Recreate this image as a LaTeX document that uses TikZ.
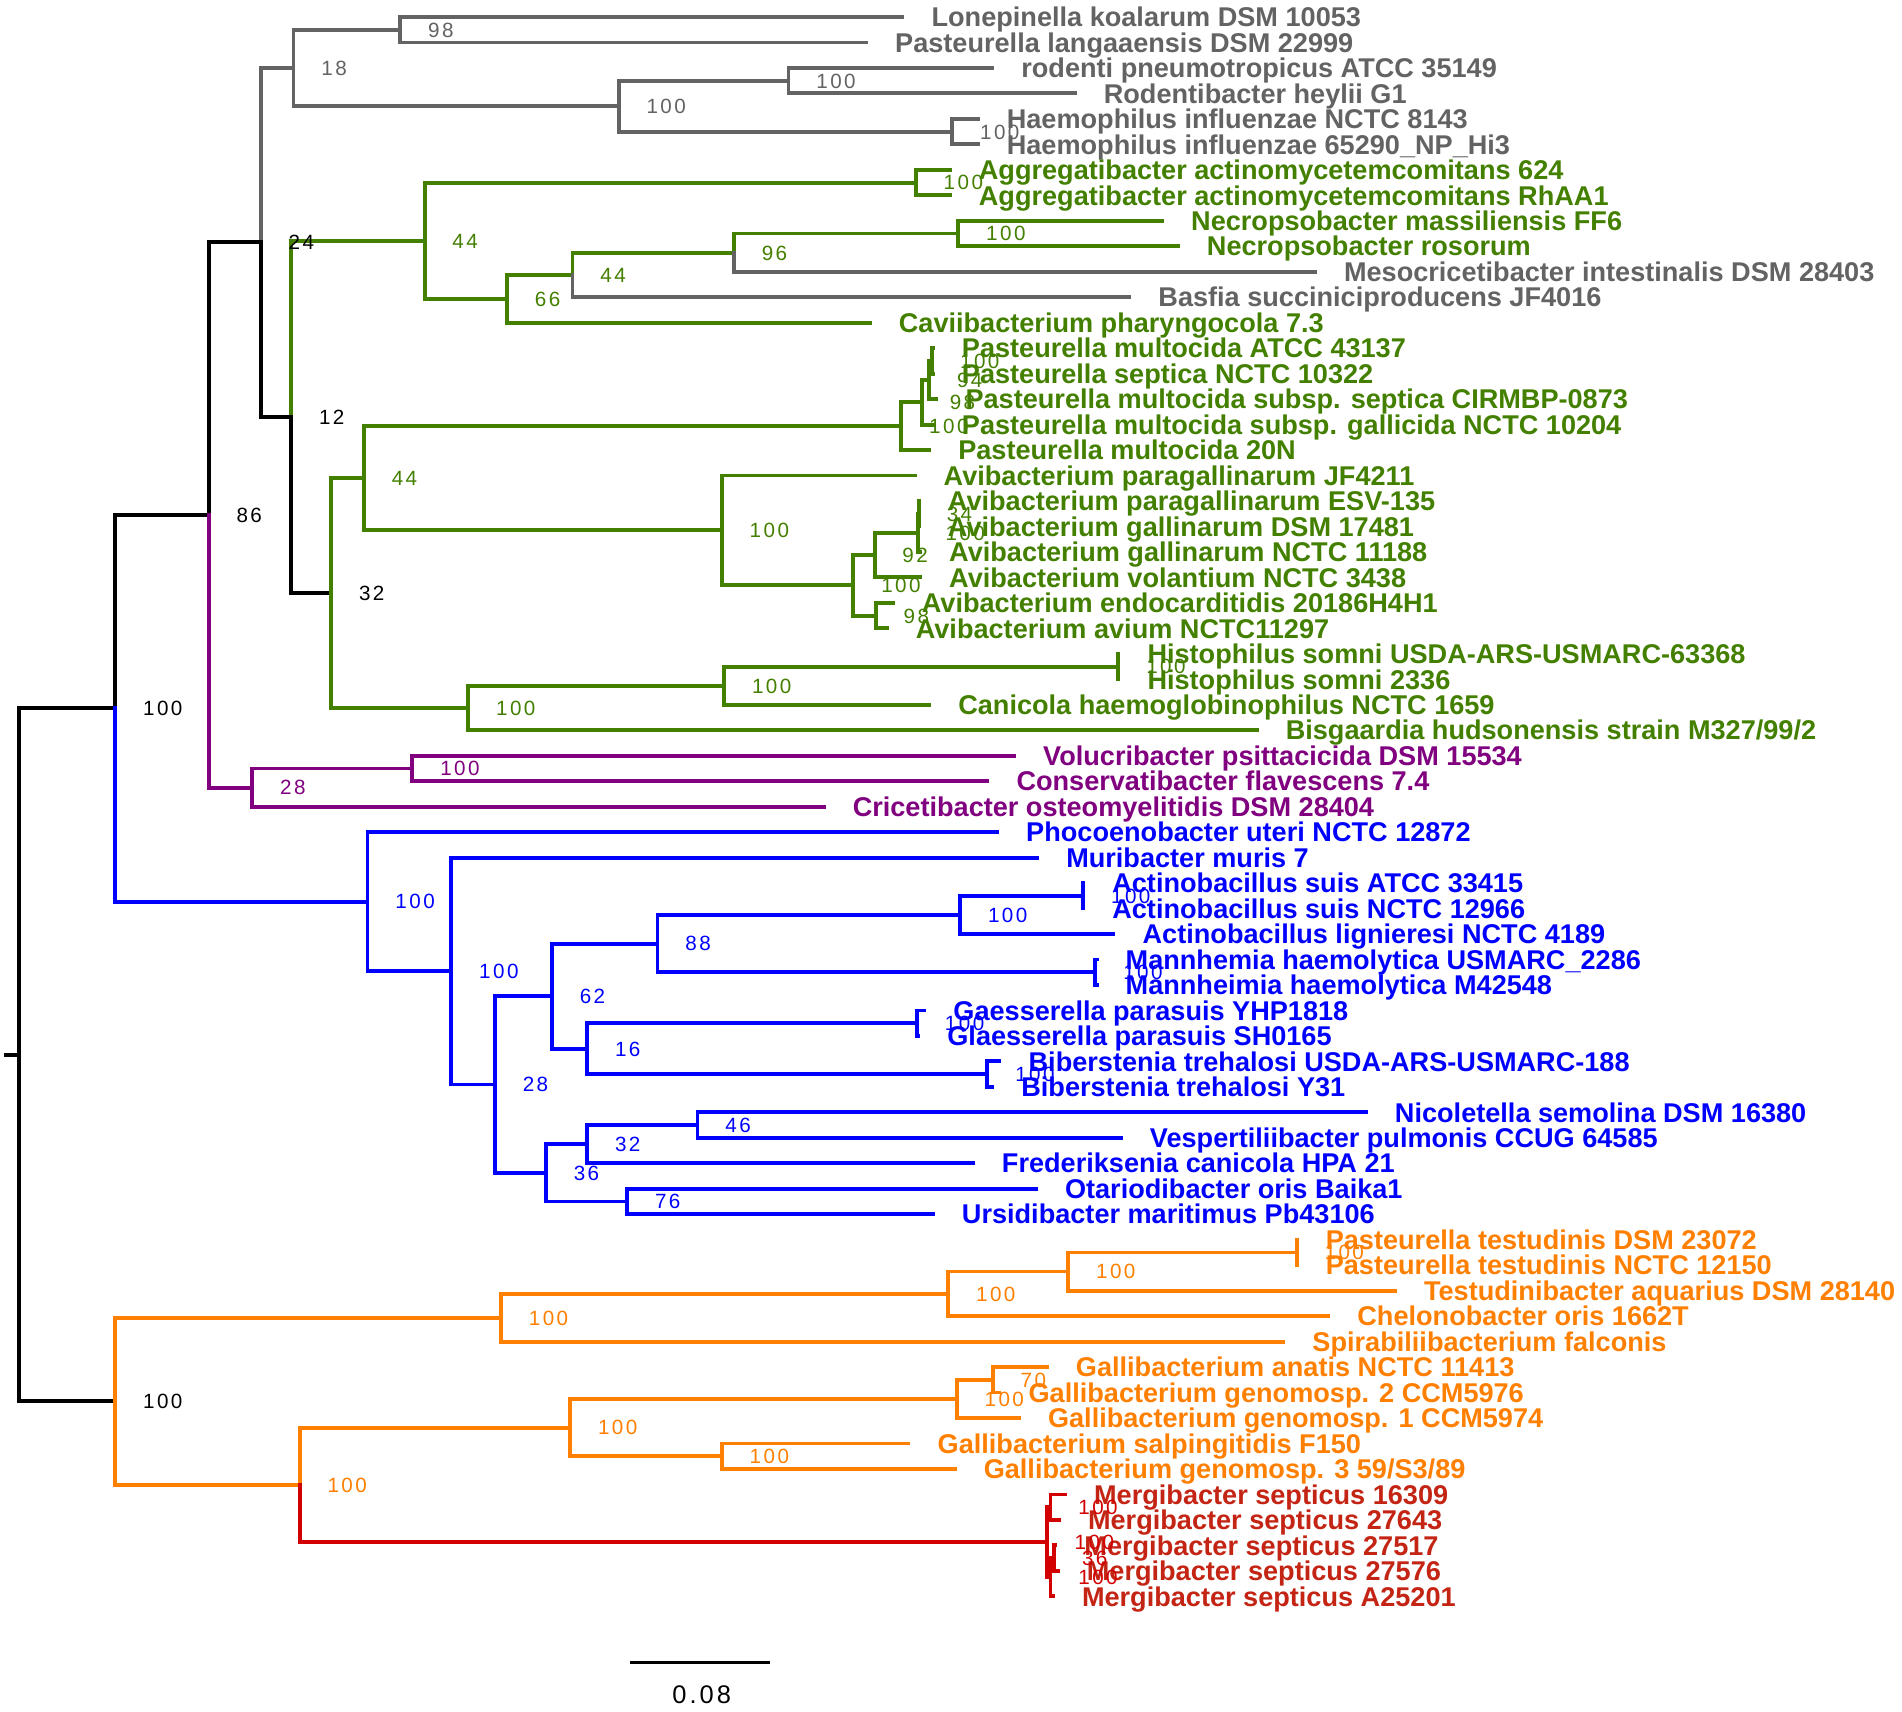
\documentclass[tikz,border=0pt]{standalone}
\usepackage{fontspec}
\setmainfont{Liberation Sans}
\newfontfamily\nlabfont[LetterSpace=12]{Liberation Sans}
\definecolor{cgr}{RGB}{99,99,99}
\definecolor{cgn}{RGB}{68,128,0}
\definecolor{cpu}{RGB}{128,0,128}
\definecolor{cbl}{RGB}{0,0,255}
\definecolor{cor}{RGB}{255,127,0}
\definecolor{crd}{RGB}{210,0,0}
\definecolor{crdt}{RGB}{196,36,20}
\definecolor{cbk}{RGB}{0,0,0}
\newcommand\mkbr[3]{\draw[branch,#3] (#1) |- (#2);}
\newcommand\mkleaf[3]{\coordinate (#1) at (#2,{14+21*(#3-1)});}
\newcommand\mktip[3]{\node[tiplab,text=#2] (t#1) at ([xshift=24pt]#1) {#3};}
\newcommand\mklab[3]{\node[nodelab,text=#2] (b#1) at ([xshift=23pt]#1) {#3};}
\tikzset{
  branch/.style={line width=3.2pt,line cap=rect,line join=miter},
  tiplab/.style={anchor=west,inner sep=0pt,outer sep=0pt,font=\fontsize{22.35}{24}\selectfont\bfseries,text height=16pt,text depth=0pt},
  nodelab/.style={anchor=west,inner sep=0pt,outer sep=0pt,font=\nlabfont\fontsize{17}{18}\selectfont,text height=12.2pt,text depth=0pt}
}
\begin{document}
\begin{tikzpicture}[x=1pt,y=-1pt]
\fill[white] (0,0) rectangle (1568,1411);
\useasboundingbox (0,0) rectangle (1568,1411);
% internal nodes
\coordinate (R0) at (5,869.56);
\coordinate (R) at (16,869.56);
\coordinate (NA) at (95,583.9);
\coordinate (NB) at (95,1155.22);
\coordinate (N86) at (172,424.55);
\coordinate (N24) at (215,199.84);
\coordinate (N18) at (242,56);
\coordinate (N98) at (330,24.5);
\coordinate (N510) at (510,87.5);
\coordinate (N650) at (650,66.5);
\coordinate (N785) at (785,108.5);
\coordinate (N12) at (240,343.68);
\coordinate (N44) at (350,198.41);
\coordinate (N755) at (755,150.5);
\coordinate (N66) at (418,246.31);
\coordinate (N472) at (472,226.63);
\coordinate (N96) at (605,208.25);
\coordinate (N790b) at (790,192.5);
\coordinate (N32) at (273,488.96);
\coordinate (N300) at (300,394.3);
\coordinate (P4) at (743,351.31);
\coordinate (P3) at (760,331.63);
\coordinate (P2) at (766,313.25);
\coordinate (P1) at (768.5,297.5);
\coordinate (N595) at (595,437.28);
\coordinate (Q4) at (703.5,482.56);
\coordinate (Q3) at (721,457.63);
\coordinate (Q2) at (756.5,439.25);
\coordinate (Q1) at (757.5,423.5);
\coordinate (Q5) at (722,507.5);
\coordinate (N386) at (386,583.63);
\coordinate (N597) at (597,565.25);
\coordinate (H) at (922,549.5);
\coordinate (N28) at (208,649.25);
\coordinate (N100p) at (340,633.5);
\coordinate (N303) at (303,743.26);
\coordinate (N372) at (372,800.52);
\coordinate (N408) at (408,894.03);
\coordinate (N455) at (455,821.19);
\coordinate (N542) at (542,777.88);
\coordinate (N792) at (791.5,754.25);
\coordinate (N890) at (893,738.5);
\coordinate (N903) at (903,801.5);
\coordinate (N484) at (484,864.5);
\coordinate (N757) at (756,843.5);
\coordinate (N816) at (814,885.5);
\coordinate (N450) at (450,966.88);
\coordinate (N484b) at (484,943.25);
\coordinate (N575) at (575,927.5);
\coordinate (N517) at (517,990.5);
\coordinate (N413) at (413,1086.31);
\coordinate (N780) at (781.7,1066.63);
\coordinate (N880) at (880.6,1048.25);
\coordinate (N1070) at (1069,1032.5);
\coordinate (N247) at (247,1224.13);
\coordinate (N470) at (470,1176.88);
\coordinate (N790g) at (788.7,1153.25);
\coordinate (N818) at (818.4,1137.5);
\coordinate (N595g) at (595,1200.5);
\coordinate (MR) at (863,1271.38);
\coordinate (M1) at (866,1242.5);
\coordinate (M2) at (866,1300.25);
\coordinate (M3) at (869,1284.5);
% leaves
\mkleaf{L1}{744}{1}\mkleaf{L2}{714}{2}\mkleaf{L3}{818}{3}\mkleaf{L4}{886}{4}
\mkleaf{L5}{806}{5}\mkleaf{L6}{806}{6}\mkleaf{L7}{783}{7}\mkleaf{L8}{783}{8}
\mkleaf{L9}{958}{9}\mkleaf{L10}{971}{10}\mkleaf{L11}{1084}{11}\mkleaf{L12}{931}{12}
\mkleaf{L13}{717}{13}\mkleaf{L14}{769}{14}\mkleaf{L15}{769}{15}\mkleaf{L16}{772}{16}
\mkleaf{L17}{769}{17}\mkleaf{L18}{766}{18}\mkleaf{L19}{754}{19}\mkleaf{L20}{757.5}{20}
\mkleaf{L21}{757.5}{21}\mkleaf{L22}{758.5}{22}\mkleaf{L23}{758.5}{23}\mkleaf{L24}{736}{24}
\mkleaf{L25}{731}{25}\mkleaf{L26}{922}{26}\mkleaf{L27}{922}{27}\mkleaf{L28}{766}{28}
\mkleaf{L29}{1036}{29}\mkleaf{L30}{836}{30}\mkleaf{L31}{814}{31}\mkleaf{L32}{679}{32}
\mkleaf{L33}{822}{33}\mkleaf{L34}{855}{34}\mkleaf{L35}{893}{35}\mkleaf{L36}{893}{36}
\mkleaf{L37}{918}{37}\mkleaf{L38}{904}{38}\mkleaf{L39}{904}{39}\mkleaf{L40}{762}{40}
\mkleaf{L41}{757}{41}\mkleaf{L42}{824}{42}\mkleaf{L43}{818}{43}\mkleaf{L44}{1126}{44}
\mkleaf{L45}{924}{45}\mkleaf{L46}{802}{46}\mkleaf{L47}{854}{47}\mkleaf{L48}{769}{48}
\mkleaf{L49}{1069}{49}\mkleaf{L50}{1069}{50}\mkleaf{L51}{1150}{51}\mkleaf{L52}{1095}{52}
\mkleaf{L53}{1058}{53}\mkleaf{L54}{863}{54}\mkleaf{L55}{824}{55}\mkleaf{L56}{840}{56}
\mkleaf{L57}{749}{57}\mkleaf{L58}{787}{58}\mkleaf{L59}{878}{59}\mkleaf{L60}{873}{60}
\mkleaf{L61}{870}{61}\mkleaf{L62}{872}{62}\mkleaf{L63}{868}{63}
% branches
\draw[branch,cbk] (R0) -- (R);
\mkbr{R}{NA}{cbk} \mkbr{R}{NB}{cbk}
\mkbr{NA}{N86}{cbk} \mkbr{NA}{N303}{cbl}
\mkbr{N86}{N24}{cbk} \mkbr{N86}{N28}{cpu}
\mkbr{N24}{N18}{cgr} \mkbr{N24}{N12}{cbk}
\mkbr{N18}{N98}{cgr} \mkbr{N18}{N510}{cgr}
\mkbr{N98}{L1}{cgr} \mkbr{N98}{L2}{cgr}
\mkbr{N510}{N650}{cgr} \mkbr{N510}{N785}{cgr}
\mkbr{N650}{L3}{cgr} \mkbr{N650}{L4}{cgr}
\mkbr{N785}{L5}{cgr} \mkbr{N785}{L6}{cgr}
\mkbr{N12}{N44}{cgn} \mkbr{N12}{N32}{cbk}
\mkbr{N44}{N755}{cgn} \mkbr{N44}{N66}{cgn}
\mkbr{N755}{L7}{cgn} \mkbr{N755}{L8}{cgn}
\mkbr{N66}{N472}{cgn} \mkbr{N66}{L13}{cgn}
\mkbr{N472}{N96}{cgn} \mkbr{N472}{L12}{cgr}
\mkbr{N96}{N790b}{cgn} \mkbr{N96}{L11}{cgr}
\mkbr{N790b}{L9}{cgn} \mkbr{N790b}{L10}{cgn}
\mkbr{N32}{N300}{cgn} \mkbr{N32}{N386}{cgn}
\mkbr{N300}{P4}{cgn} \mkbr{N300}{N595}{cgn}
\mkbr{P4}{P3}{cgn} \mkbr{P4}{L18}{cgn}
\mkbr{P3}{P2}{cgn} \mkbr{P3}{L17}{cgn}
\mkbr{P2}{P1}{cgn} \mkbr{P2}{L16}{cgn}
\mkbr{P1}{L14}{cgn} \mkbr{P1}{L15}{cgn}
\mkbr{N595}{L19}{cgn} \mkbr{N595}{Q4}{cgn}
\mkbr{Q4}{Q3}{cgn} \mkbr{Q4}{Q5}{cgn}
\mkbr{Q3}{Q2}{cgn} \mkbr{Q3}{L23}{cgn}
\mkbr{Q2}{Q1}{cgn} \mkbr{Q2}{L22}{cgn}
\mkbr{Q1}{L20}{cgn} \mkbr{Q1}{L21}{cgn}
\mkbr{Q5}{L24}{cgn} \mkbr{Q5}{L25}{cgn}
\mkbr{N386}{N597}{cgn} \mkbr{N386}{L29}{cgn}
\mkbr{N597}{H}{cgn} \mkbr{N597}{L28}{cgn}
\mkbr{H}{L26}{cgn} \mkbr{H}{L27}{cgn}
\mkbr{N28}{N100p}{cpu} \mkbr{N28}{L32}{cpu}
\mkbr{N100p}{L30}{cpu} \mkbr{N100p}{L31}{cpu}
\mkbr{N303}{L33}{cbl} \mkbr{N303}{N372}{cbl}
\mkbr{N372}{L34}{cbl} \mkbr{N372}{N408}{cbl}
\mkbr{N408}{N455}{cbl} \mkbr{N408}{N450}{cbl}
\mkbr{N455}{N542}{cbl} \mkbr{N455}{N484}{cbl}
\mkbr{N542}{N792}{cbl} \mkbr{N542}{N903}{cbl}
\mkbr{N792}{N890}{cbl} \mkbr{N792}{L37}{cbl}
\mkbr{N890}{L35}{cbl} \mkbr{N890}{L36}{cbl}
\mkbr{N903}{L38}{cbl} \mkbr{N903}{L39}{cbl}
\mkbr{N484}{N757}{cbl} \mkbr{N484}{N816}{cbl}
\mkbr{N757}{L40}{cbl} \mkbr{N757}{L41}{cbl}
\mkbr{N816}{L42}{cbl} \mkbr{N816}{L43}{cbl}
\mkbr{N450}{N484b}{cbl} \mkbr{N450}{N517}{cbl}
\mkbr{N484b}{N575}{cbl} \mkbr{N484b}{L46}{cbl}
\mkbr{N575}{L44}{cbl} \mkbr{N575}{L45}{cbl}
\mkbr{N517}{L47}{cbl} \mkbr{N517}{L48}{cbl}
\mkbr{NB}{N413}{cor} \mkbr{NB}{N247}{cor}
\mkbr{N413}{N780}{cor} \mkbr{N413}{L53}{cor}
\mkbr{N780}{N880}{cor} \mkbr{N780}{L52}{cor}
\mkbr{N880}{N1070}{cor} \mkbr{N880}{L51}{cor}
\mkbr{N1070}{L49}{cor} \mkbr{N1070}{L50}{cor}
\mkbr{N247}{N470}{cor} \mkbr{N247}{MR}{crd}
\mkbr{N470}{N790g}{cor} \mkbr{N470}{N595g}{cor}
\mkbr{N790g}{N818}{cor} \mkbr{N790g}{L56}{cor}
\mkbr{N818}{L54}{cor} \mkbr{N818}{L55}{cor}
\mkbr{N595g}{L57}{cor} \mkbr{N595g}{L58}{cor}
\mkbr{MR}{M1}{crd} \mkbr{MR}{M2}{crd}
\mkbr{M1}{L59}{crd} \mkbr{M1}{L60}{crd}
\mkbr{M2}{M3}{crd} \mkbr{M2}{L63}{crd}
\mkbr{M3}{L61}{crd} \mkbr{M3}{L62}{crd}
% tip labels
\mktip{L1}{cgr}{Lonepinella koalarum DSM 10053}
\mktip{L2}{cgr}{Pasteurella langaaensis DSM 22999}
\mktip{L3}{cgr}{rodenti pneumotropicus ATCC 35149}
\mktip{L4}{cgr}{Rodentibacter heylii G1}
\mktip{L5}{cgr}{Haemophilus influenzae NCTC 8143}
\mktip{L6}{cgr}{Haemophilus influenzae 65290\_NP\_Hi3}
\mktip{L7}{cgn}{Aggregatibacter actinomycetemcomitans 624}
\mktip{L8}{cgn}{Aggregatibacter actinomycetemcomitans RhAA1}
\mktip{L9}{cgn}{Necropsobacter massiliensis FF6}
\mktip{L10}{cgn}{Necropsobacter rosorum}
\mktip{L11}{cgr}{Mesocricetibacter intestinalis DSM 28403}
\mktip{L12}{cgr}{Basfia succiniciproducens JF4016}
\mktip{L13}{cgn}{Caviibacterium pharyngocola 7.3}
\mktip{L14}{cgn}{Pasteurella multocida ATCC 43137}
\mktip{L15}{cgn}{Pasteurella septica NCTC 10322}
\mktip{L16}{cgn}{Pasteurella multocida subsp. septica CIRMBP-0873}
\mktip{L17}{cgn}{Pasteurella multocida subsp. gallicida NCTC 10204}
\mktip{L18}{cgn}{Pasteurella multocida 20N}
\mktip{L19}{cgn}{Avibacterium paragallinarum JF4211}
\mktip{L20}{cgn}{Avibacterium paragallinarum ESV-135}
\mktip{L21}{cgn}{Avibacterium gallinarum DSM 17481}
\mktip{L22}{cgn}{Avibacterium gallinarum NCTC 11188}
\mktip{L23}{cgn}{Avibacterium volantium NCTC 3438}
\mktip{L24}{cgn}{Avibacterium endocarditidis 20186H4H1}
\mktip{L25}{cgn}{Avibacterium avium NCTC11297}
\mktip{L26}{cgn}{Histophilus somni USDA-ARS-USMARC-63368}
\mktip{L27}{cgn}{Histophilus somni 2336}
\mktip{L28}{cgn}{Canicola haemoglobinophilus NCTC 1659}
\mktip{L29}{cgn}{Bisgaardia hudsonensis strain M327/99/2}
\mktip{L30}{cpu}{Volucribacter psittacicida DSM 15534}
\mktip{L31}{cpu}{Conservatibacter flavescens 7.4}
\mktip{L32}{cpu}{Cricetibacter osteomyelitidis DSM 28404}
\mktip{L33}{cbl}{Phocoenobacter uteri NCTC 12872}
\mktip{L34}{cbl}{Muribacter muris 7}
\mktip{L35}{cbl}{Actinobacillus suis ATCC 33415}
\mktip{L36}{cbl}{Actinobacillus suis NCTC 12966}
\mktip{L37}{cbl}{Actinobacillus lignieresi NCTC 4189}
\mktip{L38}{cbl}{Mannhemia haemolytica USMARC\_2286}
\mktip{L39}{cbl}{Mannheimia haemolytica M42548}
\mktip{L40}{cbl}{Gaesserella parasuis YHP1818}
\mktip{L41}{cbl}{Glaesserella parasuis SH0165}
\mktip{L42}{cbl}{Biberstenia trehalosi USDA-ARS-USMARC-188}
\mktip{L43}{cbl}{Biberstenia trehalosi Y31}
\mktip{L44}{cbl}{Nicoletella semolina DSM 16380}
\mktip{L45}{cbl}{Vespertiliibacter pulmonis CCUG 64585}
\mktip{L46}{cbl}{Frederiksenia canicola HPA 21}
\mktip{L47}{cbl}{Otariodibacter oris Baika1}
\mktip{L48}{cbl}{Ursidibacter maritimus Pb43106}
\mktip{L49}{cor}{Pasteurella testudinis DSM 23072}
\mktip{L50}{cor}{Pasteurella testudinis NCTC 12150}
\mktip{L51}{cor}{Testudinibacter aquarius DSM 28140}
\mktip{L52}{cor}{Chelonobacter oris 1662T}
\mktip{L53}{cor}{Spirabiliibacterium falconis}
\mktip{L54}{cor}{Gallibacterium anatis NCTC 11413}
\mktip{L55}{cor}{Gallibacterium genomosp. 2 CCM5976}
\mktip{L56}{cor}{Gallibacterium genomosp. 1 CCM5974}
\mktip{L57}{cor}{Gallibacterium salpingitidis F150}
\mktip{L58}{cor}{Gallibacterium genomosp. 3 59/S3/89}
\mktip{L59}{crdt}{Mergibacter septicus 16309}
\mktip{L60}{crdt}{Mergibacter septicus 27643}
\mktip{L61}{crdt}{Mergibacter septicus 27517}
\mktip{L62}{crdt}{Mergibacter septicus 27576}
\mktip{L63}{crdt}{Mergibacter septicus A25201}
% node labels
\mklab{NA}{cbk}{100}\mklab{NB}{cbk}{100}\mklab{N86}{cbk}{86}
\mklab{N24}{cbk}{24}\mklab{N12}{cbk}{12}\mklab{N32}{cbk}{32}
\mklab{N18}{cgr}{18}\mklab{N98}{cgr}{98}\mklab{N510}{cgr}{100}
\mklab{N650}{cgr}{100}\mklab{N785}{cgr}{100}
\mklab{N44}{cgn}{44}\mklab{N755}{cgn}{100}\mklab{N66}{cgn}{66}
\mklab{N472}{cgn}{44}\mklab{N96}{cgn}{96}\mklab{N790b}{cgn}{100}
\mklab{N300}{cgn}{44}\mklab{P1}{cgn}{100}\mklab{P2}{cgn}{94}
\mklab{P3}{cgn}{98}\mklab{P4}{cgn}{100}\mklab{N595}{cgn}{100}
\mklab{Q1}{cgn}{34}\mklab{Q2}{cgn}{100}\mklab{Q3}{cgn}{92}
\mklab{Q4}{cgn}{100}\mklab{Q5}{cgn}{98}\mklab{N386}{cgn}{100}
\mklab{N597}{cgn}{100}\mklab{H}{cgn}{100}
\mklab{N28}{cpu}{28}\mklab{N100p}{cpu}{100}
\mklab{N303}{cbl}{100}\mklab{N372}{cbl}{100}\mklab{N408}{cbl}{28}
\mklab{N455}{cbl}{62}\mklab{N542}{cbl}{88}\mklab{N792}{cbl}{100}
\mklab{N890}{cbl}{100}\mklab{N903}{cbl}{100}\mklab{N484}{cbl}{16}
\mklab{N757}{cbl}{100}\mklab{N816}{cbl}{100}\mklab{N450}{cbl}{36}
\mklab{N484b}{cbl}{32}\mklab{N575}{cbl}{46}\mklab{N517}{cbl}{76}
\mklab{N413}{cor}{100}\mklab{N780}{cor}{100}\mklab{N880}{cor}{100}
\mklab{N1070}{cor}{100}\mklab{N247}{cor}{100}\mklab{N470}{cor}{100}
\mklab{N790g}{cor}{100}\mklab{N818}{cor}{70}\mklab{N595g}{cor}{100}
\mklab{MR}{crd}{100}\mklab{M1}{crd}{100}\mklab{M2}{crd}{100}\mklab{M3}{crd}{36}
% scale bar
\coordinate (S1) at (519.4,1370.7);
\coordinate (S2) at (634.8,1370.7);
\draw[line width=2.2pt,cbk] (S1) -- (S2);
\node[font=\nlabfont\fontsize{21}{22}\selectfont,inner sep=0pt,text height=15pt,text depth=0pt,anchor=center] (SL) at (578.5,1396.6) {0.08};
\end{tikzpicture}
\end{document}
